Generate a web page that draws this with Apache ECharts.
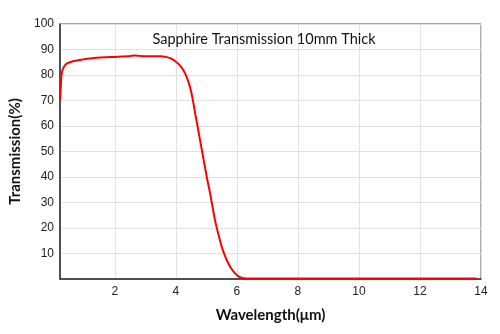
<!DOCTYPE html>
<html><head><meta charset="utf-8">
<script src="https://cdn.jsdelivr.net/npm/echarts@6/dist/echarts.min.js"></script>
<style>html,body{margin:0;padding:0;background:#fff}#c{width:500px;height:334px}</style>
</head><body><div id="c"></div>
<script>
var wavelength = [0.2,0.22,0.25,0.3,0.4,0.55,0.7,0.9,1.1,1.4,1.7,2.0,2.3,2.5,2.65,2.8,3.0,3.3,3.5,3.7,3.85,4.0,4.13,4.24,4.35,4.46,4.55,4.63,4.71,4.79,4.87,4.95,5.03,5.12,5.2,5.28,5.39,5.5,5.61,5.72,5.83,5.94,6.05,6.16,6.3,7,8,10,12,13.85];
var transmission = [70,74,80,82.5,84.3,85.1,85.6,86,86.4,86.8,87,87.1,87.3,87.45,87.6,87.5,87.4,87.4,87.4,87,86.4,85.2,83.8,82,79.3,75.4,70.5,65,59.8,54.5,49.2,44,38.8,33.6,28.3,23.1,17.6,12.7,9,6.1,3.8,2.2,1,0.4,0.2,0.15,0.15,0.15,0.15,0.15];
var xTicks = [2,4,6,8,10,12,14];
var yTicks = [10,20,30,40,50,60,70,80,90,100];
var titleText = 'Sapphire Transmission 10mm Thick';

var data = wavelength.map(function(x,i){return [x, transmission[i]];});
var chart = echarts.init(document.getElementById('c'));
chart.setOption({
  animation:false,
  title:{text:titleText,left:259,top:27,textAlign:'center',
    textStyle:{fontFamily:'Lato',fontSize:14.5,fontWeight:'normal',color:'#111'}},
  grid:{left:60,top:24,right:19,bottom:55,show:true,borderColor:'#555',borderWidth:1},
  xAxis:{type:'value',min:0.2,max:14,
    name:'Wavelength(μm)',nameLocation:'middle',nameGap:29,
    nameTextStyle:{fontFamily:'Lato',fontWeight:'bold',fontSize:15,color:'#111'},
    axisLine:{show:true,lineStyle:{color:'#333',width:1.5}},
    axisTick:{show:false,customValues:xTicks},
    axisLabel:{customValues:xTicks,fontFamily:'Liberation Sans',fontSize:12,color:'#222',margin:7},
    splitLine:{show:true,lineStyle:{color:'#e2e2e2',width:1}}},
  yAxis:{type:'value',min:0,max:100,
    name:'Transmission(%)',nameLocation:'middle',nameGap:30,
    nameTextStyle:{fontFamily:'Lato',fontWeight:'bold',fontSize:15,color:'#111'},
    axisLine:{show:true,lineStyle:{color:'#333',width:1.5}},
    axisTick:{show:false,customValues:yTicks},
    axisLabel:{customValues:yTicks,fontFamily:'Liberation Sans',fontSize:12,color:'#222',margin:6},
    splitLine:{show:true,lineStyle:{color:'#e2e2e2',width:1}}},
  series:[{type:'line',data:data,smooth:0.3,showSymbol:false,
    lineStyle:{color:'#ff0000',width:2}}]
});
</script></body></html>
